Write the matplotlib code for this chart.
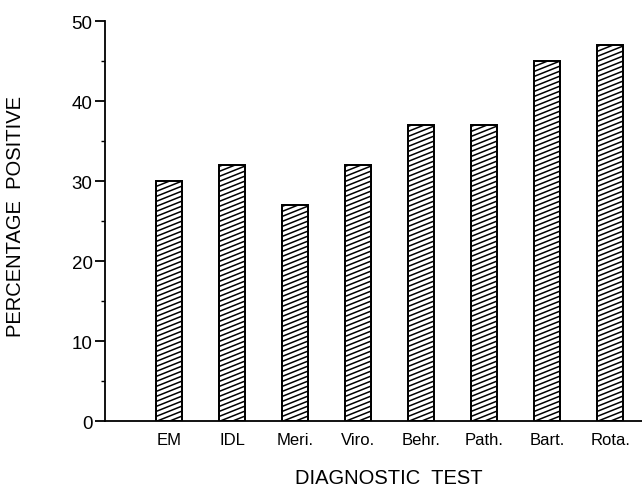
import matplotlib
matplotlib.use("Agg")
import matplotlib.pyplot as plt
import numpy as np
from matplotlib.collections import LineCollection
from matplotlib.ticker import MultipleLocator

# data
tests = ["EM", "IDL", "Meri.", "Viro.", "Behr.", "Path.", "Bart.", "Rota."]
percent_positive = [30, 32, 27, 32, 37, 37, 45, 47]

plt.rcParams["font.family"] = ["Liberation Sans", "DejaVu Sans"]

fig = plt.figure(figsize=(6.42, 4.89), dpi=100)
ax = fig.add_axes([0.1636, 0.137, 0.836, 0.818])

x = np.arange(1, len(tests) + 1)
bars = ax.bar(x, percent_positive, width=0.41, color="white",
              edgecolor="black", linewidth=1.3, zorder=2)
# outlines again on top of the hatching
ax.bar(x, percent_positive, width=0.41, color="none",
       edgecolor="black", linewidth=1.3, zorder=4)

ax.set_xlim(-0.02, 8.5)
ax.set_ylim(0, 50)
fig.canvas.draw()

# shallow diagonal hatching, drawn in pixel space and clipped to each bar
to_px = ax.transData.transform
from_px = ax.transData.inverted().transform
slope = 0.4
gap = 5.0
for b in bars:
    (x0, y0), (x1, y1) = to_px([(b.get_x(), 0), (b.get_x() + b.get_width(), b.get_height())])
    segs = []
    c = y0 - slope * (x1 - x0)
    while c < y1:
        p = from_px([(x0, c), (x1, c + slope * (x1 - x0))])
        segs.append(p)
        c += gap
    lc = LineCollection(segs, colors="black", linewidths=1.1, zorder=3)
    ax.add_collection(lc)
    lc.set_clip_path(b)

ax.set_xticks(x)
ax.set_xticklabels(tests, fontsize=12)
ax.tick_params(axis="x", length=0, pad=8)
ax.yaxis.set_major_locator(MultipleLocator(10))
ax.yaxis.set_minor_locator(MultipleLocator(5))
ax.tick_params(axis="y", which="major", length=7, width=1.3, labelsize=13.5, pad=2)
ax.tick_params(axis="y", which="minor", length=3, width=1.0)

for s in ["top", "right"]:
    ax.spines[s].set_visible(False)
for s in ["left", "bottom"]:
    ax.spines[s].set_linewidth(1.3)

ax.set_xlabel("DIAGNOSTIC  TEST", fontsize=14.5)
ax.set_ylabel("PERCENTAGE  POSITIVE", fontsize=14.5)
ax.xaxis.set_label_coords(0.529, -0.117)
ax.yaxis.set_label_coords(-0.15, 0.515)

fig.savefig("out.png", dpi=100)
